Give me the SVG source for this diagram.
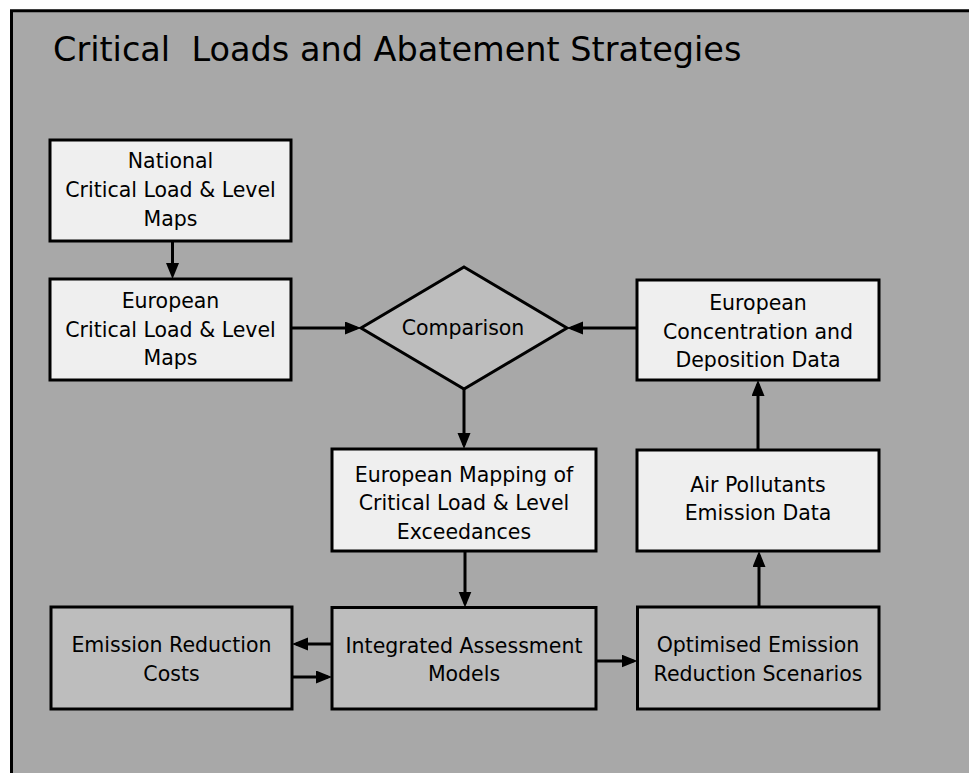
<svg xmlns="http://www.w3.org/2000/svg" width="969" height="773" viewBox="0 0 969 773">
<style>
  .bg { fill: #a8a8a8; }
  .frame { fill: none; stroke: #000; stroke-width: 3; }
  .light { fill: #efefef; stroke: #000; stroke-width: 3; }
  .dark { fill: #bdbdbd; stroke: #000; stroke-width: 3; }
  .t { font-family: "DejaVu Sans", "Liberation Sans", sans-serif; font-size: 20.5px; fill: #000; text-anchor: middle; }
  .title { font-family: "DejaVu Sans", "Liberation Sans", sans-serif; font-size: 33.5px; fill: #000; white-space: pre; }
  .c { stroke: #000; stroke-width: 3; fill: none; marker-end: url(#ah); }
</style>
<defs>
  <marker id="ah" markerUnits="userSpaceOnUse" markerWidth="16" markerHeight="14" refX="12" refY="6.5" orient="auto">
    <path d="M0,0 L16,6.5 L0,13 Z" fill="#000"/>
  </marker>
</defs>
<rect x="0" y="0" width="969" height="773" fill="#ffffff"/>
<rect class="bg" x="11.5" y="10.8" width="960" height="765"/>
<path class="frame" d="M11.5,775 V10.8 H971"/>
<text class="title" x="53" y="61">Critical  Loads and Abatement Strategies</text>

<g id="national">
  <rect class="light" x="50" y="140" width="241" height="101"/>
  <text class="t" x="170.5" y="168">National</text>
  <text class="t" x="170.5" y="197">Critical Load &amp; Level</text>
  <text class="t" x="170.5" y="225.5">Maps</text>
</g>
<g id="european-maps">
  <rect class="light" x="50" y="279" width="241" height="101"/>
  <text class="t" x="170.5" y="308">European</text>
  <text class="t" x="170.5" y="336.5">Critical Load &amp; Level</text>
  <text class="t" x="170.5" y="365">Maps</text>
</g>
<g id="comparison">
  <polygon class="dark" points="464,267 567,328 464,389 361,328"/>
  <text class="t" x="463" y="335">Comparison</text>
</g>
<g id="concentration">
  <rect class="light" x="637" y="280" width="242" height="100"/>
  <text class="t" x="758" y="310">European</text>
  <text class="t" x="758" y="338.5">Concentration and</text>
  <text class="t" x="758" y="366.5">Deposition Data</text>
</g>
<g id="air-pollutants">
  <rect class="light" x="637" y="450" width="242" height="101"/>
  <text class="t" x="758" y="491.5">Air Pollutants</text>
  <text class="t" x="758" y="520">Emission Data</text>
</g>
<g id="exceedances">
  <rect class="light" x="332" y="449" width="264" height="102"/>
  <text class="t" x="464" y="481.5">European Mapping of</text>
  <text class="t" x="464" y="510">Critical Load &amp; Level</text>
  <text class="t" x="464" y="539">Exceedances</text>
</g>
<g id="integrated">
  <rect class="dark" x="332" y="607.5" width="264" height="101.5"/>
  <text class="t" x="464" y="652.5">Integrated Assessment</text>
  <text class="t" x="464" y="681">Models</text>
</g>
<g id="costs">
  <rect class="dark" x="51" y="607" width="241" height="102"/>
  <text class="t" x="171.5" y="652.3">Emission Reduction</text>
  <text class="t" x="171.5" y="680.7">Costs</text>
</g>
<g id="optimised">
  <rect class="dark" x="637.5" y="607" width="241.5" height="102"/>
  <text class="t" x="758" y="652.3">Optimised Emission</text>
  <text class="t" x="758" y="680.7">Reduction Scenarios</text>
</g>

<g id="connectors">
  <line class="c" x1="172.5" y1="241" x2="172.5" y2="275"/>
  <line class="c" x1="291" y1="328" x2="357" y2="328"/>
  <line class="c" x1="637" y1="328" x2="571" y2="328"/>
  <line class="c" x1="464" y1="389" x2="464" y2="445"/>
  <line class="c" x1="465" y1="551" x2="465" y2="603.5"/>
  <line class="c" x1="332" y1="644" x2="296" y2="644"/>
  <line class="c" x1="292" y1="677" x2="328" y2="677"/>
  <line class="c" x1="596" y1="661" x2="633.5" y2="661"/>
  <line class="c" x1="759" y1="607" x2="759" y2="555"/>
  <line class="c" x1="758" y1="450" x2="758" y2="384"/>
</g>
</svg>
